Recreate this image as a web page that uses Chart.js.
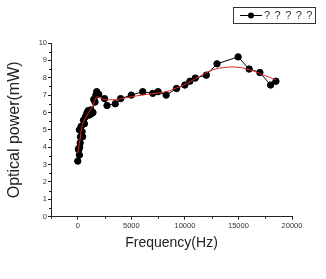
<!DOCTYPE html>
<html><head><meta charset="utf-8">
<script src="https://cdn.jsdelivr.net/npm/chart.js@4"></script>
<style>html,body{margin:0;padding:0;background:#fff}#wrap{width:326px;height:279px}</style>
</head><body><div id="wrap"><canvas id="c" width="326" height="279"></canvas></div>
<script>
const freq = [0,60,90,150,180,220,250,150,310,400,450,530,620,710,840,960,1090,1210,1330,1420,1490,1610,1690,1770,1950,2500,2730,3500,4000,5000,6060,7000,7500,8250,9220,10000,10470,10970,12000,13000,14970,16000,17000,18000,18500];
const power = [3.2,3.9,3.85,3.55,4.0,4.25,4.6,5.0,5.2,4.9,4.6,5.55,5.35,5.75,5.95,6.1,5.85,6.15,5.95,6.0,6.75,6.6,7.0,7.2,7.05,6.8,6.4,6.5,6.8,7.0,7.2,7.1,7.2,7.0,7.38,7.58,7.8,7.98,8.15,8.8,9.2,8.5,8.3,7.58,7.8];
const fitFreq = [0,200,440,900,1375,1690,1875,2300,2940,3875,5125,6690,8250,9190,10125,11375,12625,13875,14970,16060,17300,18500];
const fitPower = [3.65,4.4,5.3,5.87,6.35,6.85,6.9,6.77,6.73,6.77,6.92,7.06,7.2,7.4,7.65,8.08,8.46,8.6,8.6,8.46,8.17,7.88];
const xMajorTicks = [0,5000,10000,15000,20000];
const yMajorTicks = [0,1,2,3,4,5,6,7,8,9,10];
const legendLabel = '? ? ? ? ?';
const xTitle = 'Frequency(Hz)';
const yTitle = 'Optical power(mW)';

const FONT = "'Liberation Sans', Arial, sans-serif";

const extras = {
  id: 'extras',
  afterDraw(chart) {
    const ctx = chart.ctx, x = chart.scales.x, y = chart.scales.y;
    ctx.save();
    ctx.strokeStyle = '#222'; ctx.lineWidth = 1;
    ctx.beginPath();
    for (let v = -2500; v <= 20000; v += 2500) {
      if (v % 5000 === 0) continue;
      const px = Math.round(x.getPixelForValue(v)) + 0.5;
      ctx.moveTo(px, y.bottom); ctx.lineTo(px, y.bottom + 2);
    }
    for (let v = 0.5; v < 10; v += 1) {
      const py = Math.round(y.getPixelForValue(v)) + 0.5;
      ctx.moveTo(x.left, py); ctx.lineTo(x.left - 2, py);
    }
    ctx.stroke();
    // legend box
    ctx.strokeStyle = '#333';
    ctx.strokeRect(233.5, 7.5, 82, 16);
    ctx.strokeStyle = '#000';
    ctx.beginPath(); ctx.moveTo(240, 15.5); ctx.lineTo(262, 15.5); ctx.stroke();
    ctx.fillStyle = '#000';
    ctx.beginPath(); ctx.arc(251, 15.5, 3, 0, Math.PI * 2); ctx.fill();
    ctx.fillStyle = '#333';
    ctx.font = '11px ' + FONT;
    ctx.textBaseline = 'middle';
    if ('letterSpacing' in ctx) ctx.letterSpacing = '0.7px';
    ctx.fillText(legendLabel, 264, 16);
    ctx.restore();
  }
};

new Chart(document.getElementById('c'), {
  type: 'scatter',
  data: {
    datasets: [
      { data: fitFreq.map((f, i) => ({x: f, y: fitPower[i]})), showLine: true, borderColor: '#e02828', borderWidth: 1, pointRadius: 0, tension: 0.4, order: 0 },
      { data: freq.map((f, i) => ({x: f, y: power[i]})), showLine: true, borderColor: '#000', borderWidth: 1, pointRadius: 3.2, pointBackgroundColor: '#000', pointBorderColor: '#000', order: 1 }
    ]
  },
  options: {
    responsive: false, animation: false, devicePixelRatio: 1,
    layout: { padding: { top: 43, right: 34, left: 0, bottom: 0 } },
    plugins: { legend: { display: false }, tooltip: { enabled: false } },
    scales: {
      x: {
        type: 'linear', min: -2500, max: 20000,
        afterBuildTicks: s => { s.ticks = xMajorTicks.map(v => ({ value: v })); },
        afterFit: s => { s.height = 62.3; },
        grid: { drawOnChartArea: false, drawTicks: true, tickLength: 3, tickColor: '#222' },
        border: { display: true, color: '#222', width: 1 },
        ticks: { font: { family: FONT, size: 7.5 }, color: '#333', padding: 2, maxRotation: 0, callback: v => String(v) },
        title: { display: true, text: xTitle, font: { family: FONT, size: 14 }, color: '#222', padding: { top: 0, bottom: 27 } }
      },
      y: {
        type: 'linear', min: 0, max: 10,
        afterBuildTicks: s => { s.ticks = yMajorTicks.map(v => ({ value: v })); },
        afterFit: s => { s.width = 51; },
        grid: { drawOnChartArea: false, drawTicks: true, tickLength: 3, tickColor: '#222' },
        border: { display: true, color: '#222', width: 1 },
        ticks: { font: { family: FONT, size: 7.5 }, color: '#333', padding: 1, callback: v => String(v) },
        title: { display: true, text: yTitle, font: { family: FONT, size: 16 }, color: '#222', padding: { top: 5, bottom: 0 } }
      }
    }
  },
  plugins: [extras]
});
</script></body></html>
